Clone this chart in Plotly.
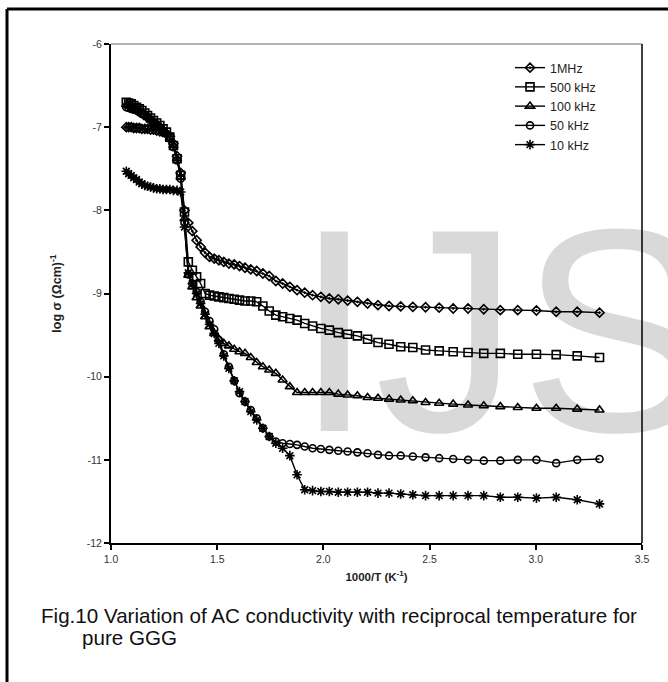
import plotly.graph_objects as go

# ---- data ----
x_vals = [1.072, 1.083, 1.095, 1.107, 1.120, 1.133, 1.145, 1.159, 1.172, 1.186,
          1.200, 1.215, 1.230, 1.245, 1.261, 1.277, 1.294, 1.311, 1.328, 1.346,
          1.364, 1.383, 1.403, 1.422, 1.443, 1.464, 1.486, 1.508, 1.531, 1.555,
          1.580, 1.605, 1.631, 1.658, 1.686, 1.715, 1.745, 1.776, 1.808, 1.842,
          1.876, 1.912, 1.949, 1.988, 2.028, 2.070, 2.114, 2.160, 2.208, 2.257,
          2.309, 2.364, 2.421, 2.481, 2.545, 2.611, 2.681, 2.755, 2.833, 2.915,
          3.003, 3.096, 3.195, 3.300]

y_1mhz = [-7.00, -7.00, -7.00, -7.01, -7.01, -7.01, -7.02, -7.02, -7.02, -7.03,
          -7.03, -7.04, -7.05, -7.06, -7.08, -7.11, -7.20, -7.35, -7.55, -8.00,
          -8.15, -8.25, -8.36, -8.44, -8.51, -8.56, -8.58, -8.60, -8.62, -8.64,
          -8.65, -8.67, -8.69, -8.71, -8.73, -8.76, -8.79, -8.85, -8.88, -8.92,
          -8.96, -8.99, -9.02, -9.04, -9.06, -9.07, -9.085, -9.10, -9.12, -9.14,
          -9.15, -9.155, -9.16, -9.165, -9.17, -9.18, -9.18, -9.19, -9.20, -9.20,
          -9.205, -9.22, -9.22, -9.23]

y_500k = [-6.70, -6.71, -6.72, -6.74, -6.76, -6.78, -6.80, -6.83, -6.86, -6.89,
          -6.92, -6.95, -6.98, -7.02, -7.06, -7.12, -7.22, -7.38, -7.58, -8.02,
          -8.62, -8.72, -8.80, -8.88, -9.00, -9.02, -9.03, -9.04, -9.05, -9.06,
          -9.07, -9.08, -9.09, -9.09, -9.10, -9.15, -9.21, -9.26, -9.28, -9.30,
          -9.32, -9.36, -9.39, -9.42, -9.44, -9.47, -9.49, -9.51, -9.55, -9.59,
          -9.61, -9.64, -9.65, -9.68, -9.69, -9.70, -9.71, -9.72, -9.72, -9.73,
          -9.73, -9.735, -9.75, -9.77]

y_100k = [-6.73, -6.74, -6.75, -6.77, -6.78, -6.80, -6.82, -6.85, -6.87, -6.90,
          -6.93, -6.96, -6.99, -7.03, -7.07, -7.13, -7.22, -7.38, -7.60, -8.10,
          -8.78, -8.92, -9.05, -9.15, -9.28, -9.40, -9.48, -9.55, -9.60, -9.63,
          -9.67, -9.70, -9.72, -9.77, -9.83, -9.88, -9.92, -9.96, -10.04, -10.12,
          -10.19, -10.19, -10.19, -10.19, -10.19, -10.21, -10.22, -10.23, -10.25, -10.26,
          -10.27, -10.28, -10.29, -10.31, -10.32, -10.33, -10.34, -10.35, -10.36, -10.37,
          -10.38, -10.38, -10.39, -10.40]

y_50k = [-6.76, -6.77, -6.78, -6.79, -6.80, -6.82, -6.84, -6.86, -6.88, -6.91,
         -6.94, -6.97, -7.00, -7.04, -7.08, -7.14, -7.24, -7.40, -7.62, -8.15,
         -8.77, -8.88, -8.98, -9.10, -9.22, -9.33, -9.43, -9.56, -9.73, -9.88,
         -10.05, -10.20, -10.30, -10.40, -10.50, -10.62, -10.72, -10.78, -10.80, -10.81,
         -10.82, -10.84, -10.86, -10.87, -10.88, -10.89, -10.90, -10.91, -10.92, -10.94,
         -10.95, -10.95, -10.96, -10.97, -10.98, -10.99, -11.00, -11.01, -11.01, -11.00,
         -11.00, -11.04, -11.00, -10.99]

y_10k = [-7.53, -7.56, -7.58, -7.61, -7.63, -7.66, -7.68, -7.70, -7.71, -7.72,
         -7.73, -7.74, -7.74, -7.75, -7.75, -7.75, -7.76, -7.76, -7.78, -8.20,
         -8.75, -8.88, -9.00, -9.12, -9.25, -9.37, -9.48, -9.60, -9.75, -9.90,
         -10.05, -10.18, -10.30, -10.42, -10.52, -10.62, -10.72, -10.80, -10.86, -10.95,
         -11.18, -11.36, -11.37, -11.38, -11.38, -11.39, -11.39, -11.39, -11.39, -11.40,
         -11.40, -11.41, -11.42, -11.43, -11.43, -11.43, -11.43, -11.43, -11.45, -11.45,
         -11.46, -11.45, -11.48, -11.53]

series_names = ["1MHz", "500 kHz", "100 kHz", "50 kHz", "10 kHz"]
series_values = [y_1mhz, y_500k, y_100k, y_50k, y_10k]
series_symbols = ["diamond-open-dot", "square-open", "triangle-up-open", "circle-open", "asterisk-open"]
series_sizes = [7, 8, 8, 7, 8]

x_tickvals = [1.0, 1.5, 2.0, 2.5, 3.0, 3.5]
x_ticktext = ["1.0", "1.5", "2.0", "2.5", "3.0", "3.5"]
y_tickvals = [-12, -11, -10, -9, -8, -7, -6]
y_ticktext = ["-12", "-11", "-10", "-9", "-8", "-7", "-6"]

caption_1 = "Fig.10 Variation of AC conductivity with reciprocal temperature for"
caption_2 = "pure GGG"

# ---- figure ----
W, H = 668, 682
L, R, T, B = 111, 26, 44, 139
pw, ph = W - L - R, H - T - B


def px(xp):
    return (xp - L) / pw


def py(yp):
    return (H - B - yp) / ph


FONT = "Liberation Sans, Arial, sans-serif"

fig = go.Figure()
for name, yv, sym, sz in zip(series_names, series_values, series_symbols, series_sizes):
    fig.add_trace(go.Scatter(
        x=x_vals, y=yv, name=name, mode="lines+markers",
        line=dict(color="black", width=1.4),
        marker=dict(symbol=sym, size=sz, color="black",
                    line=dict(color="black", width=1.6)),
    ))

fig.update_layout(
    width=W, height=H,
    margin=dict(l=L, r=R, t=T, b=B, pad=0),
    paper_bgcolor="white", plot_bgcolor="white",
    font=dict(family=FONT, color="black"),
    showlegend=True,
    legend=dict(x=px(510), y=py(53), xanchor="left", yanchor="top",
                bgcolor="rgba(0,0,0,0)", borderwidth=0,
                font=dict(size=12.5, color="#222"), tracegroupgap=0,
                itemwidth=30),
    xaxis=dict(range=[1.0, 3.5], tickvals=x_tickvals, ticktext=x_ticktext,
               showgrid=False, zeroline=False, showline=True, linecolor="black",
               linewidth=2, ticks="outside", ticklen=5, tickwidth=1.5,
               tickcolor="black", tickfont=dict(size=10.5, color="#333"),
               title=dict(text="<b>1000/T (K<sup>-1</sup>)</b>",
                          font=dict(size=11.5, color="#222"), standoff=9)),
    yaxis=dict(range=[-12, -6], tickvals=y_tickvals, ticktext=y_ticktext,
               showgrid=False, zeroline=False, showline=True, linecolor="black",
               linewidth=2, ticks="outside", ticklen=5, tickwidth=1.5,
               tickcolor="black", tickfont=dict(size=10.5, color="#333"),
               title=dict(text="<b>log σ (Ωcm)<sup>-1</sup></b>",
                          font=dict(size=12.5, color="#222"), standoff=22)),
)

# frame: top and right of plot area
fig.add_shape(type="line", xref="paper", yref="paper", x0=0, x1=1, y0=1, y1=1,
              line=dict(color="#666", width=1))
fig.add_shape(type="line", xref="paper", yref="paper", x0=1, x1=1, y0=0, y1=1,
              line=dict(color="black", width=1.5))
# outer page border (top and left)
fig.add_shape(type="line", xref="paper", yref="paper", x0=px(7), x1=px(700),
              y0=py(9), y1=py(9), line=dict(color="black", width=3))
fig.add_shape(type="line", xref="paper", yref="paper", x0=px(7), x1=px(7),
              y0=py(9), y1=py(700), line=dict(color="black", width=3))

# watermark
fig.add_annotation(text="IJS", xref="paper", yref="paper", x=px(292), y=py(330),
                   xanchor="left", yanchor="middle", showarrow=False,
                   font=dict(family=FONT, size=290, color="rgba(0,0,0,0.15)"))

# caption
fig.add_annotation(text=caption_1, xref="paper", yref="paper", x=px(39), y=py(615),
                   xanchor="left", yanchor="middle", showarrow=False,
                   font=dict(family=FONT, size=20.6, color="#111"))
fig.add_annotation(text=caption_2, xref="paper", yref="paper", x=px(80), y=py(637),
                   xanchor="left", yanchor="middle", showarrow=False,
                   font=dict(family=FONT, size=20.6, color="#111"))

fig.write_html("out.html")
